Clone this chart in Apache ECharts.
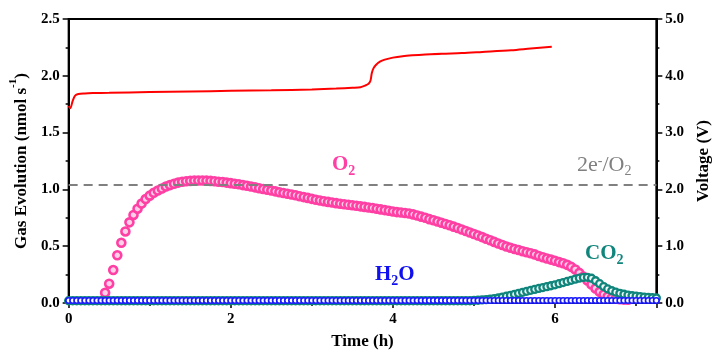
<!DOCTYPE html>
<html>
<head>
<meta charset="utf-8">
<script src="https://cdn.jsdelivr.net/npm/echarts@6/dist/echarts.min.js"></script>
<style>
html,body{margin:0;padding:0;background:#fff;}
#chart{width:720px;height:362px;}
</style>
</head>
<body>
<div id="chart"></div>
<script>
// ---- data ----
const time = [
0.00,0.05,0.10,0.15,0.20,0.25,0.30,0.35,0.40,0.45,
0.50,0.55,0.60,0.65,0.70,0.75,0.80,0.85,0.90,0.95,
1.00,1.05,1.10,1.15,1.20,1.25,1.30,1.35,1.40,1.45,
1.50,1.55,1.60,1.65,1.70,1.75,1.80,1.85,1.90,1.95,
2.00,2.05,2.10,2.15,2.20,2.25,2.30,2.35,2.40,2.45,
2.50,2.55,2.60,2.65,2.70,2.75,2.80,2.85,2.90,2.95,
3.00,3.05,3.10,3.15,3.20,3.25,3.30,3.35,3.40,3.45,
3.50,3.55,3.60,3.65,3.70,3.75,3.80,3.85,3.90,3.95,
4.00,4.05,4.10,4.15,4.20,4.25,4.30,4.35,4.40,4.45,
4.50,4.55,4.60,4.65,4.70,4.75,4.80,4.85,4.90,4.95,
5.00,5.05,5.10,5.15,5.20,5.25,5.30,5.35,5.40,5.45,
5.50,5.55,5.60,5.65,5.70,5.75,5.80,5.85,5.90,5.95,
6.00,6.05,6.10,6.15,6.20,6.25,6.30,6.35,6.40,6.45,
6.50,6.55,6.60,6.65,6.70,6.75,6.80,6.85,6.90,6.95,
7.00,7.05,7.10,7.15,7.20,7.25
];
const o2 = [
null,null,null,null,null,null,null,null,null,
0.09,0.17,0.29,0.42,0.53,0.63,0.71,0.775,0.83,0.875,
0.915,0.945,0.97,0.99,1.008,1.025,1.038,1.05,1.06,1.067,
1.072,1.075,1.077,1.078,1.078,1.077,1.075,1.072,1.068,1.065,
1.06,1.055,1.05,1.045,1.038,1.032,1.025,1.018,1.01,1.003,
0.997,0.99,0.983,0.975,0.968,0.962,0.955,0.948,0.94,0.932,
0.925,0.917,0.909,0.902,0.896,0.89,0.885,0.879,0.874,0.869,
0.865,0.861,0.856,0.851,0.846,0.841,0.836,0.83,0.824,0.818,
0.812,0.806,0.8,0.796,0.792,0.788,0.78,0.77,0.76,0.75,
0.738,0.728,0.717,0.706,0.695,0.684,0.672,0.66,0.647,0.634,
0.62,0.607,0.594,0.58,0.566,0.552,0.538,0.524,0.51,0.498,
0.487,0.476,0.466,0.456,0.447,0.438,0.428,0.414,0.403,0.392,
0.382,0.372,0.36,0.35,0.336,0.318,0.295,0.265,0.232,0.198,
0.163,0.128,0.098,0.075,0.057,0.045,0.038,0.033,0.03,0.028,
null,null,null,null,null,null,null
];
const co2 = [
0.02,0.02,0.02,0.02,0.02,0.02,0.02,0.02,0.02,0.02,0.02,0.02,0.02,0.02,0.02,0.02,0.02,0.02,0.02,0.02,
0.02,0.02,0.02,0.02,0.02,0.02,0.02,0.02,0.02,0.02,0.02,0.02,0.02,0.02,0.02,0.02,0.02,0.02,0.02,0.02,
0.02,0.02,0.02,0.02,0.02,0.02,0.02,0.02,0.02,0.02,0.02,0.02,0.02,0.02,0.02,0.02,0.02,0.02,0.02,0.02,
0.02,0.02,0.02,0.02,0.02,0.02,0.02,0.02,0.02,0.02,0.02,0.02,0.02,0.02,0.02,0.02,0.02,0.02,0.02,0.02,
0.02,0.02,0.02,0.02,0.02,0.02,0.02,0.02,0.02,0.02,0.02,0.02,0.02,0.02,0.02,0.02,0.02,0.02,0.02,0.02,
0.022,0.024,0.027,0.03,0.034,0.039,0.044,0.052,0.06,0.068,
0.076,0.085,0.094,0.103,0.112,0.12,0.128,0.136,0.144,0.152,
0.16,0.17,0.18,0.19,0.2,0.21,0.219,0.225,0.226,0.218,
0.196,0.17,0.145,0.124,0.108,0.095,0.085,0.077,0.07,0.064,
0.06,0.056,0.052,0.049,0.046,0.044
];
const h2o = [
0.022,0.022,0.022,0.022,0.022,0.022,0.022,0.022,0.022,0.022,0.022,0.022,0.022,0.022,0.022,0.022,0.022,0.022,0.022,0.022,
0.022,0.022,0.022,0.022,0.022,0.022,0.022,0.022,0.022,0.022,0.022,0.022,0.022,0.022,0.022,0.022,0.022,0.022,0.022,0.022,
0.022,0.022,0.022,0.022,0.022,0.022,0.022,0.022,0.022,0.022,0.022,0.022,0.022,0.022,0.022,0.022,0.022,0.022,0.022,0.022,
0.022,0.022,0.022,0.022,0.022,0.022,0.022,0.022,0.022,0.022,0.022,0.022,0.022,0.022,0.022,0.022,0.022,0.022,0.022,0.022,
0.022,0.022,0.022,0.022,0.022,0.022,0.022,0.022,0.022,0.022,0.022,0.022,0.022,0.022,0.022,0.022,0.022,0.022,0.022,0.022,
0.022,0.022,0.022,0.022,0.022,0.022,0.022,0.022,0.022,0.022,0.022,0.022,0.022,0.022,0.022,0.022,0.022,0.022,0.022,0.022,
0.022,0.022,0.022,0.022,0.022,0.022,0.022,0.022,0.022,0.022,0.022,0.022,0.022,0.022,0.022,0.022,0.022,0.022,0.022,0.022,
0.022,0.022,0.022,0.022,0.022,0.022
];
const voltTime = [0,0.02,0.05,0.08,0.12,0.2,0.3,0.5,1.0,1.5,2.0,2.5,3.0,3.3,3.5,3.6,3.66,3.7,3.72,3.73,3.74,3.76,3.79,3.84,3.9,4.0,4.12,4.24,4.4,4.6,4.85,5.1,5.46,5.7,5.96];
const volt =     [3.47,3.43,3.56,3.65,3.68,3.69,3.695,3.70,3.715,3.725,3.735,3.745,3.76,3.775,3.79,3.80,3.83,3.86,3.90,3.96,4.05,4.13,4.19,4.25,4.285,4.32,4.345,4.36,4.375,4.39,4.40,4.42,4.45,4.48,4.51];
const stoichLine = 1.04; // 2e-/O2 reference
const xTicks = {min:0, max:7.25, interval:2};
const leftTicks = {min:0, max:2.5, interval:0.5};
const rightTicks = {min:0, max:5, interval:1};

// ---- chart ----
const FONT = '"Liberation Serif","Times New Roman",serif';
const chart = echarts.init(document.getElementById('chart'), null, {renderer:'canvas'});
const pair = (arr) => time.map((t,i)=>[t, arr[i]]);
const axisLbl = {fontFamily:FONT, fontWeight:'bold', fontSize:15, color:'#000'};

const option = {
  animation:false,
  backgroundColor:'#fff',
  grid:{left:65, right:61, top:19, bottom:59, show:true, borderColor:'#000', borderWidth:2, backgroundColor:'transparent'},
  xAxis:{
    type:'value', min:xTicks.min, max:xTicks.max, interval:xTicks.interval,
    name:'Time (h)', nameLocation:'middle', nameGap:30,
    nameTextStyle:{fontFamily:FONT, fontWeight:'bold', fontSize:17, color:'#000'},
    axisLine:{show:true, lineStyle:{color:'#000', width:2}},
    axisTick:{show:true, inside:false, length:5, lineStyle:{color:'#000', width:1.5}},
    minorTick:{show:true, splitNumber:2, length:3, lineStyle:{color:'#000', width:1.5}},
    splitLine:{show:false},
    axisLabel:Object.assign({margin:9, showMaxLabel:false, formatter:(v)=>String(v)}, axisLbl)
  },
  yAxis:[{
    type:'value', position:'left', min:leftTicks.min, max:leftTicks.max, interval:leftTicks.interval,
    name:'{a|Gas Evolution (nmol s}{s|-1}{a|)}', nameLocation:'middle', nameGap:38, nameRotate:90,
    nameTextStyle:{rich:{
      a:{fontFamily:FONT, fontWeight:'bold', fontSize:17, color:'#000', lineHeight:22, verticalAlign:'bottom'},
      s:{fontFamily:FONT, fontWeight:'bold', fontSize:11, color:'#000', lineHeight:14, verticalAlign:'top'}
    }},
    axisLine:{show:true, lineStyle:{color:'#000', width:2}},
    axisTick:{show:true, length:6, lineStyle:{color:'#000', width:1.5}},
    minorTick:{show:true, splitNumber:2, length:3, lineStyle:{color:'#000', width:1.5}},
    splitLine:{show:false},
    axisLabel:Object.assign({margin:9, formatter:(v)=>v.toFixed(1)}, axisLbl)
  },{
    type:'value', position:'right', min:rightTicks.min, max:rightTicks.max, interval:rightTicks.interval,
    name:'Voltage (V)', nameLocation:'middle', nameGap:38, nameRotate:90,
    nameTextStyle:{fontFamily:FONT, fontWeight:'bold', fontSize:17, color:'#000'},
    axisLine:{show:true, lineStyle:{color:'#000', width:2}},
    axisTick:{show:true, length:6, lineStyle:{color:'#000', width:1.5}},
    minorTick:{show:true, splitNumber:2, length:3, lineStyle:{color:'#000', width:1.5}},
    splitLine:{show:false},
    axisLabel:Object.assign({margin:9, formatter:(v)=>v.toFixed(1)}, axisLbl)
  }],
  series:[
    {
      name:'Voltage', type:'line', yAxisIndex:1, showSymbol:false, smooth:0.3,
      data:voltTime.map((t,i)=>[t, volt[i]]),
      lineStyle:{color:'#ff0000', width:2}, z:3
    },
    {
      name:'O2', type:'line', yAxisIndex:0, data:pair(o2),
      lineStyle:{width:0}, symbol:'circle', symbolSize:8, showAllSymbol:true,
      itemStyle:{color:'#ffd0e8', borderColor:'#ff3fa3', borderWidth:2.6}, z:4,
      markLine:{silent:true, symbol:['none','none'], label:{show:false},
        lineStyle:{color:'#808080', type:[9,6], width:2},
        data:[{yAxis:stoichLine}]}
    },
    {
      name:'CO2', type:'line', yAxisIndex:0, data:pair(co2),
      lineStyle:{width:0}, symbol:'circle', symbolSize:7, showAllSymbol:true,
      itemStyle:{color:'#f0faf8', borderColor:'#10857c', borderWidth:2.3}, z:5
    },
    {
      name:'H2O', type:'line', yAxisIndex:0, data:pair(h2o),
      lineStyle:{width:0}, symbol:'circle', symbolSize:5.5, showAllSymbol:true,
      itemStyle:{color:'#ffffff', borderColor:'#1a1aff', borderWidth:1.7}, z:6
    }
  ],
  graphic:[
    {type:'text', left:332, top:154, silent:true, style:{
      text:'{a|O}{s|2}', rich:{
        a:{fontFamily:FONT, fontWeight:'bold', fontSize:21, fill:'#ff3fa3', color:'#ff3fa3', lineHeight:24, verticalAlign:'top'},
        s:{fontFamily:FONT, fontWeight:'bold', fontSize:14, fill:'#ff3fa3', color:'#ff3fa3', lineHeight:14, verticalAlign:'bottom'}}}},
    {type:'text', left:375, top:264, silent:true, style:{
      text:'{a|H}{s|2}{a|O}', rich:{
        a:{fontFamily:FONT, fontWeight:'bold', fontSize:21, fill:'#1010ee', color:'#1010ee', lineHeight:24, verticalAlign:'top'},
        s:{fontFamily:FONT, fontWeight:'bold', fontSize:14, fill:'#1010ee', color:'#1010ee', lineHeight:14, verticalAlign:'bottom'}}}},
    {type:'text', left:585, top:243, silent:true, style:{
      text:'{a|CO}{s|2}', rich:{
        a:{fontFamily:FONT, fontWeight:'bold', fontSize:21, fill:'#10857c', color:'#10857c', lineHeight:24, verticalAlign:'top'},
        s:{fontFamily:FONT, fontWeight:'bold', fontSize:14, fill:'#10857c', color:'#10857c', lineHeight:14, verticalAlign:'bottom'}}}},
    {type:'text', left:577, top:154, silent:true, style:{
      text:'{a|2e}{p|-}{a|/O}{s|2}', rich:{
        a:{fontFamily:FONT, fontSize:22, fill:'#808080', color:'#808080', lineHeight:24, verticalAlign:'top'},
        p:{fontFamily:FONT, fontSize:14, fill:'#808080', color:'#808080', lineHeight:13, verticalAlign:'top'},
        s:{fontFamily:FONT, fontSize:14, fill:'#808080', color:'#808080', lineHeight:14, verticalAlign:'bottom'}}}}
  ]
};
chart.setOption(option);
</script>
</body>
</html>
